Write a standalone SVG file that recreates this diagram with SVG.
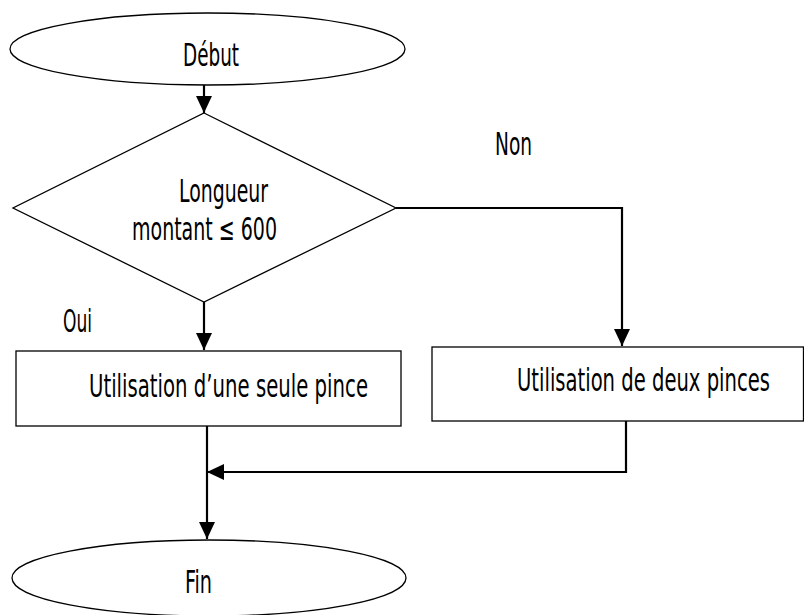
<svg xmlns="http://www.w3.org/2000/svg" width="804" height="615" viewBox="0 0 804 615">
  <style>
    .shape { fill: #ffffff; stroke: #000000; stroke-width: 1.3; }
    .conn { fill: none; stroke: #000000; stroke-width: 2.2; }
    .lbl { font-family: "Liberation Sans Narrow", "DejaVu Sans Condensed", "Liberation Sans", sans-serif; font-size: 32px; fill: #000000; }
  </style>
  <defs>
    <marker id="arrow" markerUnits="userSpaceOnUse" markerWidth="17" markerHeight="16" viewBox="0 0 17 16" refX="17" refY="8" orient="auto">
      <path d="M0,0 L17,8 L0,16 Z" fill="#000000"/>
    </marker>
  </defs>
  <rect x="0" y="0" width="804" height="615" fill="#ffffff"/>

  <g id="connectors">
    <line class="conn" x1="204" y1="85" x2="204" y2="113" marker-end="url(#arrow)"/>
    <line class="conn" x1="204" y1="302" x2="204" y2="350" marker-end="url(#arrow)"/>
    <polyline class="conn" points="396,208 622,208 622,346" marker-end="url(#arrow)"/>
    <polyline class="conn" points="626,421 626,472 207,472" marker-end="url(#arrow)"/>
    <line class="conn" x1="207" y1="426" x2="207" y2="539" marker-end="url(#arrow)"/>
  </g>

  <g id="start">
    <ellipse class="shape" cx="207.5" cy="49" rx="197.5" ry="36"/>
    <text class="lbl" x="183" y="66" textLength="56" lengthAdjust="spacingAndGlyphs">Début</text>
  </g>

  <g id="decision">
    <polygon class="shape" points="204,113 396,208 204,302 13,208"/>
    <text class="lbl" x="179" y="202" textLength="89" lengthAdjust="spacingAndGlyphs">Longueur</text>
    <text class="lbl" x="132" y="240" textLength="145" lengthAdjust="spacingAndGlyphs">montant ≤ 600</text>
  </g>

  <g id="label-non">
    <text class="lbl" x="495" y="155" textLength="37" lengthAdjust="spacingAndGlyphs">Non</text>
  </g>

  <g id="label-oui">
    <text class="lbl" x="63" y="332" textLength="29" lengthAdjust="spacingAndGlyphs">Oui</text>
  </g>

  <g id="one-clamp">
    <rect class="shape" x="16" y="351" width="385" height="75"/>
    <text class="lbl" x="89" y="397" textLength="279" lengthAdjust="spacingAndGlyphs">Utilisation d’une seule pince</text>
  </g>

  <g id="two-clamps">
    <rect class="shape" x="432" y="347" width="371.5" height="74"/>
    <text class="lbl" transform="translate(517,391) scale(0.68,1)" x="0" y="0" textLength="372" lengthAdjust="spacingAndGlyphs">Utilisation de deux pinces</text>
  </g>

  <g id="end">
    <ellipse class="shape" cx="209" cy="578" rx="197" ry="38"/>
    <text class="lbl" x="185" y="593" textLength="27" lengthAdjust="spacingAndGlyphs">Fin</text>
  </g>
</svg>
